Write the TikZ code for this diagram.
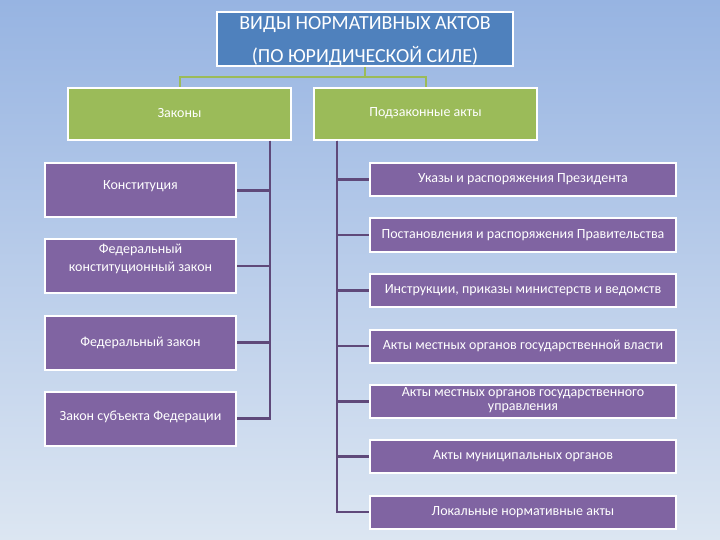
\documentclass[tikz,border=0pt]{standalone}
\usepackage{fontspec}
\setmainfont{Carlito}
\definecolor{bgtop}{HTML}{97B4E2}
\definecolor{bgbot}{HTML}{DCE6F2}
\definecolor{titleblue}{HTML}{4F81BD}
\definecolor{lgreen}{HTML}{9BBB59}
\definecolor{lpurple}{HTML}{8064A2}
\definecolor{dpurple}{HTML}{5F497A}
\tikzset{
  box/.style={draw=white, line width=2pt, rectangle, inner sep=0pt},
  btext/.style={inner sep=0pt, align=center, text=white, font=\fontsize{14}{18}\selectfont},
  titlebox/.style={box, fill=titleblue, minimum width=296pt, minimum height=54pt},
  greenbox/.style={box, fill=lgreen, minimum width=223pt, minimum height=52pt},
  leftbox/.style={box, fill=lpurple, minimum width=191pt, minimum height=54pt},
  rightbox/.style={box, fill=lpurple, minimum width=306pt, minimum height=33pt},
  conn/.style={draw=dpurple, line width=2.5pt},
  gconn/.style={draw=lgreen, line width=2pt}
}
\begin{document}
\begin{tikzpicture}[x=1pt,y=-1pt]
\shade[top color=bgtop, bottom color=bgbot] (0,0) rectangle (720,540);
\useasboundingbox (0,0) rectangle (720,540);
\coordinate (lt) at (270,0);
\coordinate (rt) at (337,0);
\coordinate (gm) at (365,77);
% boxes
\node[titlebox] (title) at (365,39) {};
\node[greenbox] (zak) at (179.5,114) {};
\node[greenbox] (pz) at (425.5,114) {};
\node[leftbox] (k1) at (140.5,190.5) {};
\node[leftbox] (k2) at (140.5,266) {};
\node[leftbox] (k3) at (140.5,342.5) {};
\node[leftbox] (k4) at (140.5,418.5) {};
\node[rightbox] (r1) at (523,179.5) {};
\node[rightbox] (r2) at (523,235) {};
\node[rightbox] (r3) at (523,290.5) {};
\node[rightbox] (r4) at (523,346) {};
\node[rightbox] (r5) at (523,401.5) {};
\node[rightbox] (r6) at (523,456.5) {};
\node[rightbox] (r7) at (523,512) {};
% texts
\node[btext, font=\fontsize{20}{33}\selectfont, yshift=-2pt] (titlet) at (title) {ВИДЫ НОРМАТИВНЫХ АКТОВ\\(ПО ЮРИДИЧЕСКОЙ СИЛЕ)};
\node[btext, yshift=1pt] (zakt) at (zak) {Законы};
\node[btext, yshift=1pt] (pzt) at (pz) {Подзаконные акты};
\node[btext, yshift=4pt] (k1t) at (k1) {Конституция};
\node[btext, yshift=7pt] (k2t) at (k2) {Федеральный\\конституционный закон};
\node[btext] (k3t) at (k3) {Федеральный закон};
\node[btext, yshift=1.5pt] (k4t) at (k4) {Закон субъекта Федерации};
\node[btext] (r1t) at (r1) {Указы и распоряжения Президента};
\node[btext] (r2t) at (r2) {Постановления и распоряжения Правительства};
\node[btext] (r3t) at (r3) {Инструкции, приказы министерств и ведомств};
\node[btext] (r4t) at (r4) {Акты местных органов государственной власти};
\node[btext, font=\fontsize{14}{14}\selectfont, yshift=1pt] (r5t) at (r5) {Акты местных органов государственного\\управления};
\node[btext] (r6t) at (r6) {Акты муниципальных органов};
\node[btext] (r7t) at (r7) {Локальные нормативные акты};
% connectors
\draw[gconn] (title.south) -- (gm) -| (zak.north);
\draw[gconn] (gm) -| (pz.north);
\foreach \k in {k1,k2,k3,k4} \draw[conn] (lt |- zak.south) |- (\k.east);
\foreach \r in {r1,r2,r3,r4,r5,r6,r7} \draw[conn] (rt |- pz.south) |- (\r.west);
\end{tikzpicture}
\end{document}
